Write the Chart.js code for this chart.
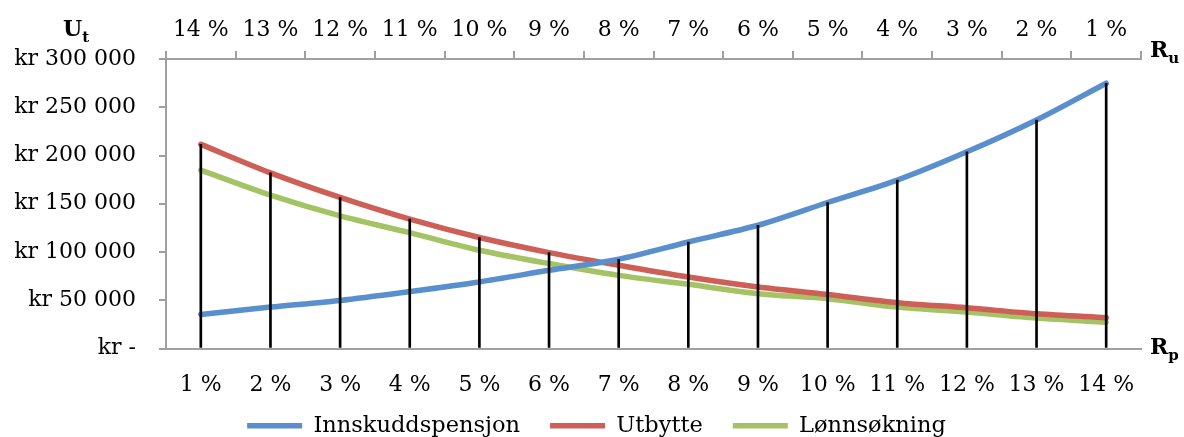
<!DOCTYPE html>
<html>
<head>
<meta charset="utf-8">
<script src="https://cdn.jsdelivr.net/npm/chart.js@4/dist/chart.umd.min.js"></script>
<style>
  body { margin: 0; background: #fff; }
  canvas { display: block; }
</style>
</head>
<body>
<canvas id="pension-chart" width="1184" height="437"></canvas>
<script>
// Data
const categories = ['1 %', '2 %', '3 %', '4 %', '5 %', '6 %', '7 %', '8 %', '9 %', '10 %', '11 %', '12 %', '13 %', '14 %'];
const topLabels = ['14 %', '13 %', '12 %', '11 %', '10 %', '9 %', '8 %', '7 %', '6 %', '5 %', '4 %', '3 %', '2 %', '1 %'];
const innskuddspensjon = [35300, 42900, 49800, 59000, 69000, 81000, 92500, 110400, 127700, 151300, 174500, 203800, 236800, 274900];
const utbytte = [211500, 182000, 156500, 134000, 115000, 99400, 86200, 74000, 63700, 56000, 47500, 42200, 36000, 31900];
const lonnsokning = [184800, 158900, 137400, 120000, 101800, 88000, 75800, 66500, 56800, 51600, 42900, 37700, 31500, 27300];

// vertical drop lines reach up to the highest series at each category
const dropLines = categories.map((c, i) => Math.max(innskuddspensjon[i], utbytte[i], lonnsokning[i]));

const axisGray = '#a0a0a0';
Chart.defaults.font.family = "'DejaVu Serif', serif";
Chart.defaults.font.size = 22;
Chart.defaults.color = '#000';

function krFormat(value) {
    if (value === 0) return 'kr -';
    return 'kr ' + String(value).replace(/\B(?=(\d{3})+(?!\d))/g, ' ');
}

// pull the legend up a bit (closer to the x labels) and centre it on the canvas
const legendShift = {
    id: 'legendShift',
    afterLayout(chart) {
        const lg = chart.legend;
        if (lg) {
            lg.top -= 26;
            lg.bottom -= 26;
            lg.left += 26;
            lg.right += 26;
        }
    }
};

// Axis symbols U_t, R_u, R_p
const axisSymbols = {
    id: 'axisSymbols',
    afterDraw(chart) {
        const ctx = chart.ctx;
        const area = chart.chartArea;
        function symbol(main, sub, x, y) {
            ctx.save();
            ctx.fillStyle = '#000';
            ctx.textBaseline = 'alphabetic';
            ctx.textAlign = 'left';
            ctx.font = "bold 22px 'DejaVu Serif', serif";
            ctx.fillText(main, x, y);
            const w = ctx.measureText(main).width;
            ctx.font = "bold 15px 'DejaVu Serif', serif";
            ctx.fillText(sub, x + w, y + 6);
            ctx.restore();
        }
        symbol('U', 't', area.left - 103, area.top - 23);
        symbol('R', 'u', area.right + 9, area.top - 2);
        symbol('R', 'p', area.right + 9, area.bottom + 5);
    }
};

new Chart(document.getElementById('pension-chart'), {
    data: {
        labels: categories,
        datasets: [
            {
                type: 'bar',
                label: '',
                data: dropLines,
                backgroundColor: '#000',
                barThickness: 2,
                order: 0
            },
            {
                type: 'line',
                label: 'Innskuddspensjon',
                data: innskuddspensjon,
                borderColor: '#5A8FCD',
                backgroundColor: '#5A8FCD',
                borderWidth: 5.5,
                borderCapStyle: 'round',
                pointRadius: 0,
                tension: 0.3,
                order: 1
            },
            {
                type: 'line',
                label: 'Utbytte',
                data: utbytte,
                borderColor: '#CD5F56',
                backgroundColor: '#CD5F56',
                borderWidth: 5.5,
                borderCapStyle: 'round',
                pointRadius: 0,
                tension: 0.3,
                order: 1
            },
            {
                type: 'line',
                label: 'Lønnsøkning',
                data: lonnsokning,
                borderColor: '#A4C364',
                backgroundColor: '#A4C364',
                borderWidth: 5.5,
                borderCapStyle: 'round',
                pointRadius: 0,
                tension: 0.3,
                order: 1
            }
        ]
    },
    options: {
        responsive: false,
        animation: false,
        layout: {
            padding: { left: 0, right: 43, top: 0, bottom: -36 }
        },
        plugins: {
            tooltip: { enabled: false },
            legend: {
                position: 'bottom',
                labels: {
                    usePointStyle: true,
                    pointStyle: 'line',
                    pointStyleWidth: 55,
                    padding: 30,
                    font: { size: 22.5 },
                    filter: function(item) {
                        return item.text !== '';
                    }
                }
            }
        },
        scales: {
            x: {
                type: 'category',
                position: 'bottom',
                offset: true,
                grid: { offset: true, drawOnChartArea: false, drawTicks: false },
                border: { color: axisGray, width: 2 },
                ticks: { padding: 24, maxRotation: 0, autoSkip: false },
                afterFit: function(scale) { scale.height = 62; }
            },
            x2: {
                type: 'category',
                position: 'top',
                labels: topLabels,
                offset: true,
                grid: { offset: true, drawOnChartArea: false, tickLength: 8, color: axisGray, lineWidth: 2 },
                border: { color: axisGray, width: 2 },
                ticks: { padding: 8, maxRotation: 0, autoSkip: false },
                afterFit: function(scale) { scale.height = 59; }
            },
            y: {
                min: 0,
                max: 300000,
                grid: { drawOnChartArea: false, tickLength: 7, color: axisGray, lineWidth: 2 },
                border: { color: axisGray, width: 2 },
                ticks: {
                    stepSize: 50000,
                    padding: 23,
                    callback: function(value) { return krFormat(value); }
                },
                afterFit: function(scale) { scale.width = 166; }
            }
        }
    },
    plugins: [legendShift, axisSymbols]
});
</script>
</body>
</html>
